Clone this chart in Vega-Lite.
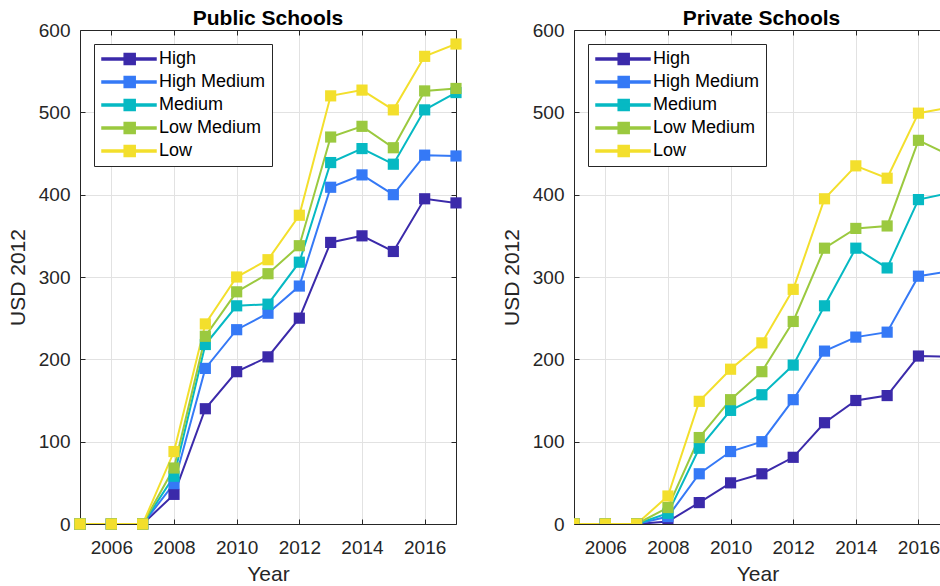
{
  "$schema": "https://vega.github.io/schema/vega-lite/v6.json",
  "background": "white",
  "padding": {"left": 7, "top": 8, "right": 0, "bottom": 0},
  "config": {
    "font": "Liberation Sans",
    "view": {"stroke": null},
    "axis": {
      "domainColor": "#262626", "tickColor": "#262626", "labelColor": "#262626", "titleColor": "#262626",
      "gridColor": "#e2e2e2", "labelFont": "Liberation Sans", "titleFont": "Liberation Sans",
      "labelFontSize": 19, "titleFontSize": 21, "titleFontWeight": "normal", "tickSize": -5
    },
    "title": {"font": "Liberation Sans", "fontSize": 21, "fontWeight": "bold", "color": "black", "offset": -8}
  },
  "data": {"values": [
    {"panel": "Public", "group": "High", "year": 2005, "usd": 0},
    {"panel": "Public", "group": "High", "year": 2006, "usd": 0},
    {"panel": "Public", "group": "High", "year": 2007, "usd": 0},
    {"panel": "Public", "group": "High", "year": 2008, "usd": 36},
    {"panel": "Public", "group": "High", "year": 2009, "usd": 140},
    {"panel": "Public", "group": "High", "year": 2010, "usd": 185},
    {"panel": "Public", "group": "High", "year": 2011, "usd": 203},
    {"panel": "Public", "group": "High", "year": 2012, "usd": 250},
    {"panel": "Public", "group": "High", "year": 2013, "usd": 342},
    {"panel": "Public", "group": "High", "year": 2014, "usd": 350},
    {"panel": "Public", "group": "High", "year": 2015, "usd": 331},
    {"panel": "Public", "group": "High", "year": 2016, "usd": 395},
    {"panel": "Public", "group": "High", "year": 2017, "usd": 390},
    {"panel": "Public", "group": "High Medium", "year": 2005, "usd": 0},
    {"panel": "Public", "group": "High Medium", "year": 2006, "usd": 0},
    {"panel": "Public", "group": "High Medium", "year": 2007, "usd": 0},
    {"panel": "Public", "group": "High Medium", "year": 2008, "usd": 49},
    {"panel": "Public", "group": "High Medium", "year": 2009, "usd": 189},
    {"panel": "Public", "group": "High Medium", "year": 2010, "usd": 236},
    {"panel": "Public", "group": "High Medium", "year": 2011, "usd": 256},
    {"panel": "Public", "group": "High Medium", "year": 2012, "usd": 289},
    {"panel": "Public", "group": "High Medium", "year": 2013, "usd": 409},
    {"panel": "Public", "group": "High Medium", "year": 2014, "usd": 424},
    {"panel": "Public", "group": "High Medium", "year": 2015, "usd": 400},
    {"panel": "Public", "group": "High Medium", "year": 2016, "usd": 448},
    {"panel": "Public", "group": "High Medium", "year": 2017, "usd": 447},
    {"panel": "Public", "group": "Medium", "year": 2005, "usd": 0},
    {"panel": "Public", "group": "Medium", "year": 2006, "usd": 0},
    {"panel": "Public", "group": "Medium", "year": 2007, "usd": 0},
    {"panel": "Public", "group": "Medium", "year": 2008, "usd": 58},
    {"panel": "Public", "group": "Medium", "year": 2009, "usd": 218},
    {"panel": "Public", "group": "Medium", "year": 2010, "usd": 265},
    {"panel": "Public", "group": "Medium", "year": 2011, "usd": 267},
    {"panel": "Public", "group": "Medium", "year": 2012, "usd": 318},
    {"panel": "Public", "group": "Medium", "year": 2013, "usd": 439},
    {"panel": "Public", "group": "Medium", "year": 2014, "usd": 456},
    {"panel": "Public", "group": "Medium", "year": 2015, "usd": 437},
    {"panel": "Public", "group": "Medium", "year": 2016, "usd": 503},
    {"panel": "Public", "group": "Medium", "year": 2017, "usd": 524},
    {"panel": "Public", "group": "Low Medium", "year": 2005, "usd": 0},
    {"panel": "Public", "group": "Low Medium", "year": 2006, "usd": 0},
    {"panel": "Public", "group": "Low Medium", "year": 2007, "usd": 0},
    {"panel": "Public", "group": "Low Medium", "year": 2008, "usd": 68},
    {"panel": "Public", "group": "Low Medium", "year": 2009, "usd": 228},
    {"panel": "Public", "group": "Low Medium", "year": 2010, "usd": 282},
    {"panel": "Public", "group": "Low Medium", "year": 2011, "usd": 304},
    {"panel": "Public", "group": "Low Medium", "year": 2012, "usd": 338},
    {"panel": "Public", "group": "Low Medium", "year": 2013, "usd": 470},
    {"panel": "Public", "group": "Low Medium", "year": 2014, "usd": 483},
    {"panel": "Public", "group": "Low Medium", "year": 2015, "usd": 457},
    {"panel": "Public", "group": "Low Medium", "year": 2016, "usd": 526},
    {"panel": "Public", "group": "Low Medium", "year": 2017, "usd": 529},
    {"panel": "Public", "group": "Low", "year": 2005, "usd": 0},
    {"panel": "Public", "group": "Low", "year": 2006, "usd": 0},
    {"panel": "Public", "group": "Low", "year": 2007, "usd": 0},
    {"panel": "Public", "group": "Low", "year": 2008, "usd": 88},
    {"panel": "Public", "group": "Low", "year": 2009, "usd": 243},
    {"panel": "Public", "group": "Low", "year": 2010, "usd": 300},
    {"panel": "Public", "group": "Low", "year": 2011, "usd": 321},
    {"panel": "Public", "group": "Low", "year": 2012, "usd": 375},
    {"panel": "Public", "group": "Low", "year": 2013, "usd": 520},
    {"panel": "Public", "group": "Low", "year": 2014, "usd": 527},
    {"panel": "Public", "group": "Low", "year": 2015, "usd": 503},
    {"panel": "Public", "group": "Low", "year": 2016, "usd": 568},
    {"panel": "Public", "group": "Low", "year": 2017, "usd": 583},
    {"panel": "Private", "group": "High", "year": 2005, "usd": 0},
    {"panel": "Private", "group": "High", "year": 2006, "usd": 0},
    {"panel": "Private", "group": "High", "year": 2007, "usd": 0},
    {"panel": "Private", "group": "High", "year": 2008, "usd": 3},
    {"panel": "Private", "group": "High", "year": 2009, "usd": 26},
    {"panel": "Private", "group": "High", "year": 2010, "usd": 50},
    {"panel": "Private", "group": "High", "year": 2011, "usd": 61},
    {"panel": "Private", "group": "High", "year": 2012, "usd": 81},
    {"panel": "Private", "group": "High", "year": 2013, "usd": 123},
    {"panel": "Private", "group": "High", "year": 2014, "usd": 150},
    {"panel": "Private", "group": "High", "year": 2015, "usd": 156},
    {"panel": "Private", "group": "High", "year": 2016, "usd": 204},
    {"panel": "Private", "group": "High", "year": 2017, "usd": 203},
    {"panel": "Private", "group": "High Medium", "year": 2005, "usd": 0},
    {"panel": "Private", "group": "High Medium", "year": 2006, "usd": 0},
    {"panel": "Private", "group": "High Medium", "year": 2007, "usd": 0},
    {"panel": "Private", "group": "High Medium", "year": 2008, "usd": 9},
    {"panel": "Private", "group": "High Medium", "year": 2009, "usd": 61},
    {"panel": "Private", "group": "High Medium", "year": 2010, "usd": 88},
    {"panel": "Private", "group": "High Medium", "year": 2011, "usd": 100},
    {"panel": "Private", "group": "High Medium", "year": 2012, "usd": 151},
    {"panel": "Private", "group": "High Medium", "year": 2013, "usd": 210},
    {"panel": "Private", "group": "High Medium", "year": 2014, "usd": 227},
    {"panel": "Private", "group": "High Medium", "year": 2015, "usd": 233},
    {"panel": "Private", "group": "High Medium", "year": 2016, "usd": 301},
    {"panel": "Private", "group": "High Medium", "year": 2017, "usd": 307},
    {"panel": "Private", "group": "Medium", "year": 2005, "usd": 0},
    {"panel": "Private", "group": "Medium", "year": 2006, "usd": 0},
    {"panel": "Private", "group": "Medium", "year": 2007, "usd": 0},
    {"panel": "Private", "group": "Medium", "year": 2008, "usd": 13},
    {"panel": "Private", "group": "Medium", "year": 2009, "usd": 92},
    {"panel": "Private", "group": "Medium", "year": 2010, "usd": 138},
    {"panel": "Private", "group": "Medium", "year": 2011, "usd": 157},
    {"panel": "Private", "group": "Medium", "year": 2012, "usd": 193},
    {"panel": "Private", "group": "Medium", "year": 2013, "usd": 265},
    {"panel": "Private", "group": "Medium", "year": 2014, "usd": 335},
    {"panel": "Private", "group": "Medium", "year": 2015, "usd": 311},
    {"panel": "Private", "group": "Medium", "year": 2016, "usd": 394},
    {"panel": "Private", "group": "Medium", "year": 2017, "usd": 402},
    {"panel": "Private", "group": "Low Medium", "year": 2005, "usd": 0},
    {"panel": "Private", "group": "Low Medium", "year": 2006, "usd": 0},
    {"panel": "Private", "group": "Low Medium", "year": 2007, "usd": 0},
    {"panel": "Private", "group": "Low Medium", "year": 2008, "usd": 20},
    {"panel": "Private", "group": "Low Medium", "year": 2009, "usd": 105},
    {"panel": "Private", "group": "Low Medium", "year": 2010, "usd": 151},
    {"panel": "Private", "group": "Low Medium", "year": 2011, "usd": 185},
    {"panel": "Private", "group": "Low Medium", "year": 2012, "usd": 246},
    {"panel": "Private", "group": "Low Medium", "year": 2013, "usd": 335},
    {"panel": "Private", "group": "Low Medium", "year": 2014, "usd": 359},
    {"panel": "Private", "group": "Low Medium", "year": 2015, "usd": 362},
    {"panel": "Private", "group": "Low Medium", "year": 2016, "usd": 466},
    {"panel": "Private", "group": "Low Medium", "year": 2017, "usd": 448},
    {"panel": "Private", "group": "Low", "year": 2005, "usd": 0},
    {"panel": "Private", "group": "Low", "year": 2006, "usd": 0},
    {"panel": "Private", "group": "Low", "year": 2007, "usd": 0},
    {"panel": "Private", "group": "Low", "year": 2008, "usd": 34},
    {"panel": "Private", "group": "Low", "year": 2009, "usd": 149},
    {"panel": "Private", "group": "Low", "year": 2010, "usd": 188},
    {"panel": "Private", "group": "Low", "year": 2011, "usd": 220},
    {"panel": "Private", "group": "Low", "year": 2012, "usd": 285},
    {"panel": "Private", "group": "Low", "year": 2013, "usd": 395},
    {"panel": "Private", "group": "Low", "year": 2014, "usd": 435},
    {"panel": "Private", "group": "Low", "year": 2015, "usd": 420},
    {"panel": "Private", "group": "Low", "year": 2016, "usd": 499},
    {"panel": "Private", "group": "Low", "year": 2017, "usd": 506}
  ]},
  "resolve": {"scale": {"color": "shared"}, "legend": {"color": "independent"}},
  "spacing": 39,
  "hconcat": [
    {
      "width": 376, "height": 494,
      "title": {"text": "Public Schools"},
      "transform": [{"filter": "datum.panel === 'Public'"}],
      "resolve": {"axis": {"x": "independent", "y": "independent"}},
      "layer": [
        {
          "mark": {"type": "line", "strokeWidth": 2, "clip": true},
          "encoding": {
            "x": {"field": "year", "type": "quantitative", "scale": {"domain": [2005, 2017], "nice": false, "zero": false},
                  "axis": {"orient": "bottom", "values": [2006, 2008, 2010, 2012, 2014, 2016], "format": "d", "labelPadding": 19, "title": "Year", "titlePadding": 6, "grid": true}},
            "y": {"field": "usd", "type": "quantitative", "scale": {"domain": [0, 600], "nice": false},
                  "axis": {"orient": "left", "values": [0, 100, 200, 300, 400, 500, 600], "labelPadding": 15, "title": "USD 2012", "titlePadding": 10, "grid": true}},
            "color": {"field": "group", "type": "nominal",
                      "scale": {"domain": ["High", "High Medium", "Medium", "Low Medium", "Low"], "range": ["#3B2AAA", "#3579F6", "#06B9C3", "#9BC93F", "#F3DF2C"]},
                      "legend": {"title": null, "orient": "top-left", "offset": 14,
                                 "symbolType": "M-1.4,-0.2H9.4V0.2H-1.4Z M3.04,-1.1H5.24V1.1H3.04Z", "symbolSize": 100,
                                 "labelFontSize": 18, "labelColor": "black", "labelOffset": 41, "padding": 6, "rowPadding": 5,
                                 "strokeColor": "#262626", "fillColor": "white",
                                 "encode": {"symbols": {"update": {"fill": {"scale": "color", "field": "value"}, "stroke": {"value": "transparent"}, "opacity": {"value": 1}}}}}}
          }
        },
        {
          "mark": {"type": "point", "shape": "square", "filled": true, "size": 125, "opacity": 1},
          "encoding": {
            "x": {"field": "year", "type": "quantitative", "axis": {"orient": "top", "labels": false, "grid": false, "title": null, "values": [2006, 2008, 2010, 2012, 2014, 2016]}},
            "y": {"field": "usd", "type": "quantitative", "axis": {"orient": "right", "labels": false, "grid": false, "title": null, "values": [0, 100, 200, 300, 400, 500, 600]}},
            "color": {"field": "group", "type": "nominal", "legend": null}
          }
        }
      ]
    },
    {
      "width": 367, "height": 494,
      "title": {"text": "Private Schools", "dx": 4},
      "transform": [{"filter": "datum.panel === 'Private'"}],
      "resolve": {"axis": {"x": "independent", "y": "independent"}},
      "layer": [
        {
          "mark": {"type": "line", "strokeWidth": 2, "clip": true},
          "encoding": {
            "x": {"field": "year", "type": "quantitative", "scale": {"domain": [2005, 2016.72], "nice": false, "zero": false},
                  "axis": {"orient": "bottom", "values": [2006, 2008, 2010, 2012, 2014, 2016], "format": "d", "labelPadding": 19, "title": "Year", "titlePadding": 6, "grid": true}},
            "y": {"field": "usd", "type": "quantitative", "scale": {"domain": [0, 600], "nice": false},
                  "axis": {"orient": "left", "values": [0, 100, 200, 300, 400, 500, 600], "labelPadding": 15, "title": "USD 2012", "titlePadding": 10, "grid": true}},
            "color": {"field": "group", "type": "nominal",
                      "legend": {"title": null, "orient": "top-left", "offset": 14,
                                 "symbolType": "M-1.4,-0.2H9.4V0.2H-1.4Z M3.04,-1.1H5.24V1.1H3.04Z", "symbolSize": 100,
                                 "labelFontSize": 18, "labelColor": "black", "labelOffset": 41, "padding": 6, "rowPadding": 5,
                                 "strokeColor": "#262626", "fillColor": "white",
                                 "encode": {"symbols": {"update": {"fill": {"scale": "color", "field": "value"}, "stroke": {"value": "transparent"}, "opacity": {"value": 1}}}}}}
          }
        },
        {
          "transform": [{"filter": "datum.year <= 2016"}],
          "mark": {"type": "point", "shape": "square", "filled": true, "size": 125, "opacity": 1, "clip": true},
          "encoding": {
            "x": {"field": "year", "type": "quantitative", "axis": {"orient": "top", "labels": false, "grid": false, "title": null, "values": [2006, 2008, 2010, 2012, 2014, 2016]}},
            "y": {"field": "usd", "type": "quantitative", "axis": null},
            "color": {"field": "group", "type": "nominal", "legend": null}
          }
        }
      ]
    }
  ]
}
